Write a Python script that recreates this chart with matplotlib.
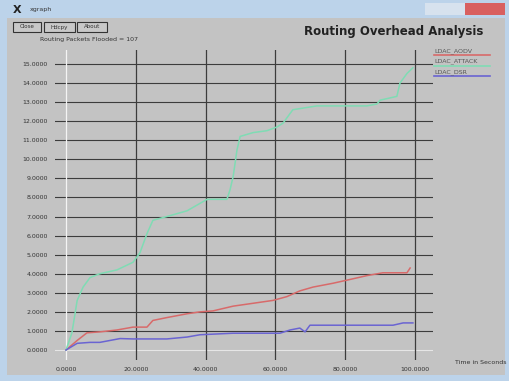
import matplotlib
matplotlib.use("Agg")
import matplotlib.pyplot as plt
from matplotlib.patches import Rectangle

# Cumulative routing overhead traces (time in s, overhead)
aodv_t = [0, 3.2, 6.0, 9.7, 14.6, 19.2, 23.2, 24.9, 28.9, 34.7, 38.4, 42.1, 47.9,
          53.6, 59.3, 63.3, 67.0, 70.8, 76.5, 81.4, 86.2, 90.8, 97.7, 98.6]
aodv_v = [0, 0.5, 0.9, 0.95, 1.05, 1.2, 1.2, 1.55, 1.7, 1.9, 2.0, 2.05, 2.3,
          2.45, 2.6, 2.8, 3.1, 3.3, 3.5, 3.7, 3.9, 4.05, 4.05, 4.3]

attack_t = [0, 1.7, 3.2, 4.9, 6.9, 9.7, 14.6, 19.2, 21.2, 23.2, 24.9, 28.9, 34.7,
            40.4, 46.1, 47.0, 47.9, 49.0, 49.9, 53.6, 57.6, 60.5, 62.2, 64.2, 65.0,
            71.9, 76.5, 86.2, 89.1, 90.0, 94.8, 95.7, 97.7, 99.4]
attack_v = [0, 0.9, 2.6, 3.3, 3.8, 4.0, 4.2, 4.6, 5.1, 6.1, 6.8, 7.0, 7.3,
            7.9, 7.9, 8.4, 9.1, 10.5, 11.2, 11.4, 11.5, 11.7, 11.9, 12.4, 12.6,
            12.8, 12.8, 12.8, 12.9, 13.1, 13.3, 14.0, 14.5, 14.8]

dsr_t = [0, 3.2, 6.9, 9.7, 12.6, 15.5, 19.2, 28.9, 34.7, 38.4, 47.9, 57.6, 61.3,
         64.2, 67.0, 68.5, 69.9, 76.5, 93.7, 96.6, 99.4]
dsr_v = [0, 0.35, 0.4, 0.4, 0.5, 0.6, 0.58, 0.58, 0.68, 0.8, 0.88, 0.88, 0.88,
         1.05, 1.15, 0.95, 1.3, 1.3, 1.3, 1.42, 1.42]

series_names = ["LDAC_AODV", "LDAC_ATTACK", "LDAC_DSR"]
series_colors = ["#d86a6a", "#7fdcb4", "#6a64d2"]

x_ticks = [0, 20, 40, 60, 80, 100]
y_ticks = list(range(0, 16))

W, H = 510, 381
fig = plt.figure(figsize=(W / 100, H / 100), dpi=100)
fig.patch.set_facecolor("#c3c3c3")


def fx(px):
    return px / W


def fy(py):
    return 1 - py / H


def box(x0, y0, x1, y1, **kw):
    fig.patches.append(Rectangle((fx(x0), fy(y1)), fx(x1) - fx(x0), fy(y0) - fy(y1),
                                 transform=fig.transFigure, **kw))


# window frame and title bar
box(0, 0, W, 18, facecolor="#bcd3ea", edgecolor="none")
box(0, 18, 7, H, facecolor="#bcd3ea", edgecolor="none")
box(505, 18, W, H, facecolor="#bcd3ea", edgecolor="none")
box(0, 375, W, H, facecolor="#bcd3ea", edgecolor="none")
box(465, 3, 505, 15, facecolor="#d86060", edgecolor="none")
box(425, 3, 465, 15, facecolor="#d7e2ee", edgecolor="none")
fig.text(fx(13), fy(10), "X", fontsize=8, fontweight="bold", color="#222222",
         va="center", ha="left")
fig.text(fx(30), fy(10), "xgraph", fontsize=4.5, color="#333333", va="center")

# xgraph buttons
for label, x0, x1 in [("Close", 13, 41), ("Hdcpy", 44, 75), ("About", 77, 107)]:
    box(x0, 22, x1, 32, facecolor="#c8c8c8", edgecolor="#333333", linewidth=0.8)
    fig.text(fx((x0 + x1) / 2), fy(27), label, fontsize=4, color="#333333",
             ha="center", va="center")

fig.text(fx(40), fy(40), "Routing Packets Flooded = 107", fontsize=4.5,
         color="#333333", va="center")
fig.text(fx(483), fy(32), "Routing Overhead Analysis", fontsize=8.5,
         fontweight="bold", color="#222222", ha="right", va="center")

ax = fig.add_axes([fx(55), fy(360), fx(433) - fx(55), fy(50) - fy(360)])
ax.set_facecolor("#c3c3c3")
x_lo, x_hi = (55 - 66) / 3.49, (433 - 66) / 3.49
y_lo, y_hi = (350 - 360) / 19.07, (350 - 50) / 19.07
ax.set_xlim(x_lo, x_hi)
ax.set_ylim(y_lo, y_hi)
for s in ax.spines.values():
    s.set_visible(False)

for yv in y_ticks:
    ax.axhline(yv, color="#e6e6e6" if yv == 0 else "#3c3c3c", linewidth=0.8,
               zorder=1)
for xv in x_ticks:
    ax.axvline(xv, color="#f4f4f4" if xv == 0 else "#3c3c3c", linewidth=0.9,
               zorder=1)

ax.set_xticks(x_ticks)
ax.set_yticks(y_ticks)
ax.set_xticklabels([f"{v:.4f}" for v in x_ticks])
ax.set_yticklabels([f"{v:.4f}" for v in y_ticks])
ax.tick_params(length=0, labelsize=4.5, labelcolor="#333333")
ax.tick_params(axis="y", pad=5)
ax.tick_params(axis="x", pad=5)

for t, v, c in zip([aodv_t, attack_t, dsr_t], [aodv_v, attack_v, dsr_v],
                   series_colors):
    ax.plot(t, v, color=c, linewidth=1.1, zorder=3, drawstyle="default")

# legend entries
for i, (name, c) in enumerate(zip(series_names, series_colors)):
    y = 51 + i * 10.5
    fig.text(fx(434), fy(y), name, fontsize=4.5, color="#555555", va="center")
    fig.lines.append(plt.Line2D([fx(434), fx(490)], [fy(y + 4), fy(y + 4)],
                                transform=fig.transFigure, color=c, linewidth=1.2))

fig.text(fx(507), fy(362), "Time in Seconds", fontsize=4.5, color="#333333",
         ha="right", va="center")

fig.savefig("out.png", dpi=100, facecolor=fig.get_facecolor())
